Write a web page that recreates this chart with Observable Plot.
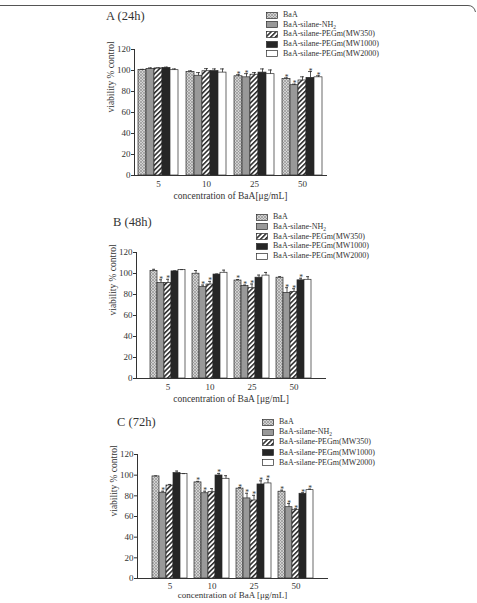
<!DOCTYPE html>
<html><head><meta charset="utf-8">
<script src="https://cdn.jsdelivr.net/npm/d3@7"></script>
<script src="https://cdn.jsdelivr.net/npm/@observablehq/plot@0.6"></script>
<style>
body{margin:0;background:#fff;overflow:hidden;}
#page{position:relative;width:477px;height:603px;overflow:hidden;font-family:"Liberation Serif","Times New Roman",serif;color:#333;}
.ptitle{position:absolute;font-size:12.5px;line-height:1;white-space:nowrap;}
.legend{position:absolute;font-size:8px;line-height:1;}
.lrow{position:absolute;left:0;white-space:nowrap;display:flex;align-items:center;height:8px;}
.lrow svg{margin-right:5px;flex:none;}
.lrow sub{font-size:5.5px;vertical-align:-2px;line-height:0;}
.panel{position:absolute;left:0;}
</style></head><body>
<div id="page">
<svg width="0" height="0" style="position:absolute"><defs>
<pattern id="pBaA" width="3" height="3" patternUnits="userSpaceOnUse">
 <rect width="3" height="3" fill="#d2d2d2"/>
 <path d="M0,0L3,3M3,0L0,3" stroke="#8a8a8a" stroke-width="0.6"/>
</pattern>
<pattern id="p350" width="3.4" height="3.4" patternUnits="userSpaceOnUse" patternTransform="rotate(45)">
 <rect width="3.4" height="3.4" fill="#fff"/>
 <line x1="0.8" y1="0" x2="0.8" y2="3.4" stroke="#111" stroke-width="1.4"/>
</pattern>
</defs></svg>
<svg width="477" height="20" style="position:absolute;left:0;top:0"><path d="M0,5.5L468,5.5Q474,5.5 475.5,12" fill="none" stroke="#555" stroke-width="1"/></svg>
</div>
<script>
const concentrations = ["5", "10", "25", "50"];
const series = ["BaA", "BaA-silane-NH2", "BaA-silane-PEGm(MW350)", "BaA-silane-PEGm(MW1000)", "BaA-silane-PEGm(MW2000)"];
const yTicks = [0, 20, 40, 60, 80, 100, 120];

// 24h
const titleA = "A (24h)";
const xTitleA = "concentration of BaA[\u03bcg/mL]";
const valuesA = [[100.6, 98.7, 94.5, 92.0], [101.5, 95.0, 93.5, 86.0], [102.0, 99.3, 96.0, 90.5], [102.5, 99.5, 98.0, 93.0], [100.3, 98.0, 96.5, 93.5]];
const errorsA = [[0.5, 1.0, 1.5, 1.0], [1.0, 3.0, 3.5, 1.0], [0.5, 2.5, 2.0, 3.5], [0.7, 2.0, 3.5, 6.0], [1.2, 3.5, 4.0, 1.5]];
const starsA = [[0, 0, 1, 1], [0, 0, 1, 1], [0, 0, 0, 0], [0, 0, 0, 1], [0, 0, 0, 1]];

// 48h
const titleB = "B (48h)";
const xTitleB = "concentration of BaA [\u03bcg/mL]";
const valuesB = [[102.5, 99.8, 93.3, 96.0], [91.0, 87.0, 88.0, 81.5], [91.0, 89.5, 86.0, 82.5], [102.0, 99.0, 96.0, 93.5], [103.2, 100.7, 98.0, 94.0]];
const errorsB = [[1.5, 3.0, 1.0, 1.0], [3.0, 2.0, 1.0, 5.0], [3.5, 3.0, 4.0, 3.0], [0.5, 0.5, 2.5, 2.0], [0.5, 2.5, 3.0, 3.0]];
const starsB = [[0, 0, 1, 0], [1, 1, 1, 1], [1, 1, 1, 1], [0, 0, 0, 1], [0, 0, 0, 0]];

// 72h
const titleC = "C (72h)";
const xTitleC = "concentration of BaA [\u03bcg/mL]";
const valuesC = [[98.8, 93.0, 87.0, 84.0], [83.0, 82.5, 77.5, 69.0], [90.0, 83.5, 75.5, 66.5], [102.0, 99.7, 91.0, 82.0], [101.0, 96.5, 92.0, 85.5]];
const errorsC = [[0.5, 1.0, 1.0, 1.5], [1.5, 2.0, 5.0, 3.5], [1.0, 3.5, 5.0, 1.0], [2.0, 2.0, 3.5, 1.0], [0.5, 3.0, 4.0, 1.0]];
const starsC = [[0, 1, 1, 1], [1, 1, 1, 1], [0, 0, 1, 1], [0, 1, 1, 1], [0, 0, 1, 1]];

const yLabel = "viability % control";
const fills = ["url(#pBaA)", "#999999", "url(#p350)", "#262626", "#ffffff"];
const page = document.getElementById("page");

function addPanel(cfg) {
  const rows = [];
  series.forEach((s, i) => concentrations.forEach((c, j) => rows.push({key: c + "|" + i, s: i, v: cfg.values[i][j], e: cfg.errors[i][j], star: cfg.stars[i][j]})));
  const domain = [];
  concentrations.forEach((c, j) => {
    series.forEach((s, i) => domain.push(c + "|" + i));
    if (j < concentrations.length - 1) domain.push("gap" + j);
  });
  const svg = Plot.plot({
    width: 477, height: cfg.h,
    marginLeft: cfg.left, marginRight: 477 - cfg.right, marginTop: cfg.mt, marginBottom: cfg.h - cfg.mt - cfg.fh,
    style: {background: "transparent", fontFamily: "Liberation Serif, serif", fontSize: "8px", color: "#333", overflow: "visible"},
    x: {type: "band", domain, padding: 0, insetLeft: 4, insetRight: 4},
    y: {domain: [0, 120]},
    marks: [
      ...series.map((s, i) => Plot.barY(rows.filter(d => d.s === i), {x: "key", y: "v", fill: fills[i], stroke: "#2a2a2a", strokeWidth: 0.7})),
      Plot.ruleX(rows, {x: "key", y1: "v", y2: d => d.v + d.e, stroke: "#2a2a2a", strokeWidth: 0.8}),
      Plot.tickY(rows, {x: "key", y: d => d.v + d.e, insetLeft: 2, insetRight: 2, stroke: "#2a2a2a", strokeWidth: 0.8}),
      Plot.text(rows.filter(d => d.star), {x: "key", y: d => d.v + d.e, text: () => "*", dy: 2, lineAnchor: "bottom", fontSize: 7.5, fill: "#333"}),
      Plot.frame({anchor: "left", stroke: "#333"}),
      Plot.frame({anchor: "bottom", stroke: "#333"}),
      Plot.axisY({ticks: yTicks, tickSize: 3, tickPadding: 1, label: null, fontSize: 9, stroke: "#333"}),
      Plot.axisX({ticks: concentrations.map(c => c + "|2"), tickFormat: k => k.split("|")[0], tickSize: 0, tickPadding: cfg.tp, label: null, fontSize: 9}),
      Plot.text([yLabel], {frameAnchor: "left", rotate: -90, dx: -24, fontSize: 9.5, fill: "#333"}),
      Plot.text([cfg.xTitle], {frameAnchor: "bottom", dy: cfg.xdy, fontSize: cfg.xfs, fill: "#333"})
    ]
  });
  svg.classList.add("panel");
  svg.style.top = cfg.top + "px";
  page.appendChild(svg);

  const t = document.createElement("div");
  t.className = "ptitle";
  t.textContent = cfg.title;
  t.style.left = cfg.titleX + "px";
  t.style.top = cfg.titleY + "px";
  page.appendChild(t);

  const lg = document.createElement("div");
  lg.className = "legend";
  lg.style.left = cfg.legX + "px";
  lg.style.top = cfg.legY + "px";
  series.forEach((s, i) => {
    const r = document.createElement("div");
    r.className = "lrow";
    r.style.top = (i * cfg.legStep) + "px";
    r.innerHTML = `<svg width="12" height="7"><rect x="0.5" y="0.5" width="11" height="6" fill="${fills[i]}" stroke="#2a2a2a" stroke-width="0.7"/></svg><span>${s.replace("NH2", "NH<sub>2</sub>")}</span>`;
    lg.appendChild(r);
  });
  page.appendChild(lg);
}

addPanel({title: titleA, xTitle: xTitleA, values: valuesA, errors: errorsA, stars: starsA, xdy: 23, xfs: 9.5, tp: 5,
  top: 30, h: 180, mt: 19, fh: 126, left: 134, right: 326, titleX: 106, titleY: 10, legX: 266, legY: 11, legStep: 9.7});
addPanel({title: titleB, xTitle: xTitleB, values: valuesB, errors: errorsB, stars: starsB, xdy: 23, xfs: 9.5, tp: 5,
  top: 232, h: 180, mt: 20, fh: 126, left: 136, right: 325, titleX: 113, titleY: 216, legX: 256, legY: 213, legStep: 9.8});
addPanel({title: titleC, xTitle: xTitleC, values: valuesC, errors: errorsC, stars: starsC, xdy: 19.5, xfs: 9, tp: 4,
  top: 434, h: 169, mt: 20, fh: 124, left: 137, right: 327, titleX: 117, titleY: 416, legX: 262, legY: 418, legStep: 10.2});
</script>
</body></html>
